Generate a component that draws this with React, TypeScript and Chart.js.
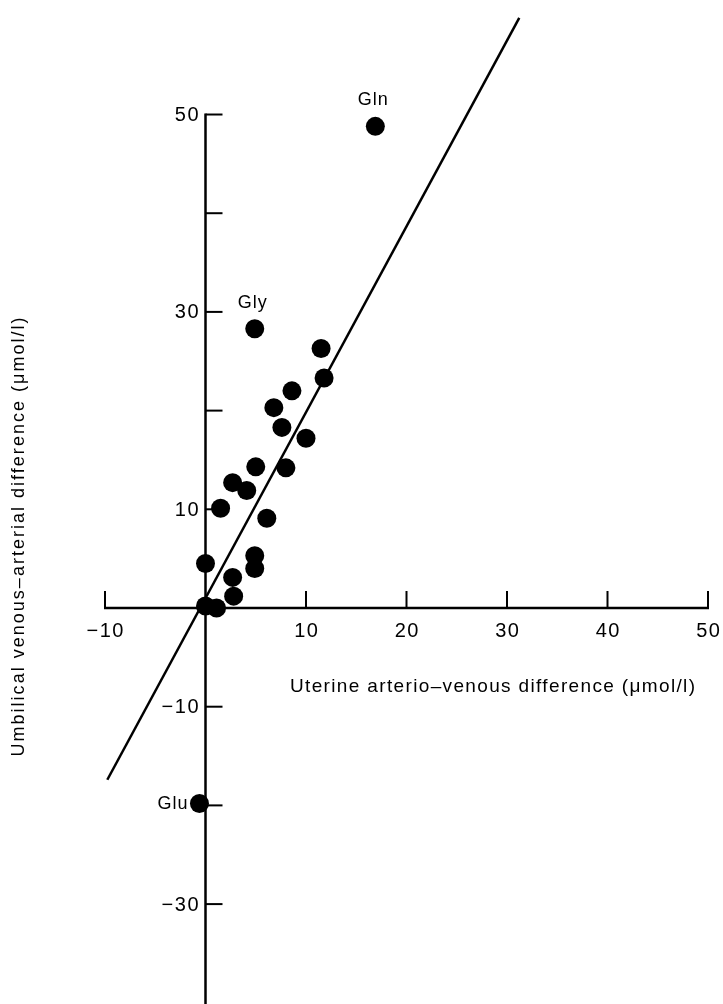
import { useEffect, useRef } from "react";
import { Chart, registerables } from "chart.js";

Chart.register(...registerables);

// ---- data ----
const pointX = [16.9, 4.9, 11.5, 11.8, 8.6, 6.8, 7.6, 10.0, 5.0, 8.0, 2.7, 4.1, 1.5, 6.1, 0.0, 4.9, 4.9, 2.7, 2.8, 0.0, 1.1, -0.6];
const pointY = [48.8, 28.3, 26.3, 23.3, 22.0, 20.3, 18.3, 17.2, 14.3, 14.2, 12.7, 11.9, 10.1, 9.1, 4.5, 5.3, 4.0, 3.1, 1.2, 0.2, 0.0, -19.8];
const pointNames = ["Gln", "Gly", "", "", "", "", "", "", "", "", "", "", "", "", "", "", "", "", "", "", "", "Glu"];
const labelPlacement: Record<string, string> = { Gln: "above", Gly: "above", Glu: "left" };

const fitX = [-9.77, 31.22];
const fitY = [-17.4, 59.8];

const xTickValues = [-10, 0, 10, 20, 30, 40, 50];
const xLabelValues = [-10, 10, 20, 30, 40, 50];
const xLabelTexts = ["\u221210", "10", "20", "30", "40", "50"];
const yTickValues = [50, 40, 30, 20, 10, -10, -20, -30];
const yLabelValues = [50, 30, 10, -10, -30];
const yLabelTexts = ["50", "30", "10", "\u221210", "\u221230"];

const xTitle = "Uterine arterio\u2013venous difference (\u03bcmol/l)";
const yTitle = "Umbilical venous\u2013arterial difference (\u03bcmol/l)";

const FONT = '"Liberation Sans", Arial, Helvetica, sans-serif';

function setSpacing(ctx: any, px: number) {
  if ("letterSpacing" in ctx) ctx.letterSpacing = px + "px";
}

function drawFitted(ctx: any, text: string, x: number, y: number, target: number) {
  setSpacing(ctx, 0);
  const w0 = ctx.measureText(text).width;
  const n = Array.from(text).length;
  const ls = (target - w0) / Math.max(1, n - 1);
  setSpacing(ctx, ls);
  ctx.textAlign = "left";
  ctx.fillText(text, x, y);
  setSpacing(ctx, 0);
}

const axesPlugin = {
  id: "customAxes",
  beforeDatasetsDraw(chart: any) {
    const { ctx, scales } = chart;
    const xs = scales.x;
    const ys = scales.y;
    const x0 = xs.getPixelForValue(0);
    const y0 = ys.getPixelForValue(0);
    ctx.save();
    ctx.strokeStyle = "#000";
    ctx.lineCap = "butt";
    // x axis
    ctx.lineWidth = 2.5;
    ctx.beginPath();
    ctx.moveTo(xs.getPixelForValue(xTickValues[0]) - 1, y0);
    ctx.lineTo(xs.getPixelForValue(xTickValues[xTickValues.length - 1]) + 1, y0);
    ctx.stroke();
    ctx.lineWidth = 2;
    xTickValues.forEach((v) => {
      if (v === 0) return;
      const px = xs.getPixelForValue(v);
      ctx.beginPath();
      ctx.moveTo(px, y0);
      ctx.lineTo(px, y0 - 17);
      ctx.stroke();
    });
    // y axis
    ctx.lineWidth = 2.5;
    const yTop = ys.getPixelForValue(yTickValues[0]);
    ctx.beginPath();
    ctx.moveTo(x0, yTop - 1);
    ctx.lineTo(x0, chart.height);
    ctx.stroke();
    ctx.lineWidth = 2;
    yTickValues.forEach((v) => {
      const py = ys.getPixelForValue(v);
      ctx.beginPath();
      ctx.moveTo(x0, py);
      ctx.lineTo(x0 + 17, py);
      ctx.stroke();
    });
    ctx.restore();
  },
  afterDatasetsDraw(chart: any) {
    const { ctx, scales } = chart;
    const xs = scales.x;
    const ys = scales.y;
    const x0 = xs.getPixelForValue(0);
    const y0 = ys.getPixelForValue(0);
    ctx.save();
    ctx.fillStyle = "#000";
    // x tick labels
    ctx.font = "20px " + FONT;
    ctx.textBaseline = "middle";
    ctx.textAlign = "center";
    const tls = 1.5;
    xLabelValues.forEach((v, i) => {
      setSpacing(ctx, tls);
      ctx.fillText(xLabelTexts[i], xs.getPixelForValue(v) + tls / 2, y0 + 23);
    });
    // y tick labels
    ctx.textAlign = "right";
    yLabelValues.forEach((v, i) => {
      setSpacing(ctx, tls);
      ctx.fillText(yLabelTexts[i], x0 - 7 + tls, ys.getPixelForValue(v) + 1);
    });
    setSpacing(ctx, 0);
    // point labels
    ctx.font = "18px " + FONT;
    pointNames.forEach((name, i) => {
      if (!name) return;
      const px = xs.getPixelForValue(pointX[i]);
      const py = ys.getPixelForValue(pointY[i]);
      setSpacing(ctx, 1);
      if (labelPlacement[name] === "above") {
        ctx.textAlign = "center";
        ctx.textBaseline = "alphabetic";
        ctx.fillText(name, px - 2, py - 21);
      } else {
        ctx.textAlign = "right";
        ctx.textBaseline = "middle";
        ctx.fillText(name, px - 11, py + 1);
      }
    });
    setSpacing(ctx, 0);
    // x title
    ctx.font = "19px " + FONT;
    ctx.textBaseline = "alphabetic";
    drawFitted(ctx, xTitle, 290, 692, 405);
    // y title
    ctx.font = "18px " + FONT;
    ctx.save();
    ctx.translate(19, 537);
    ctx.rotate(-Math.PI / 2);
    ctx.textBaseline = "middle";
    drawFitted(ctx, yTitle, -219.5, 0, 439);
    ctx.restore();
    ctx.restore();
  },
};

export default function App() {
  const canvasRef = useRef<HTMLCanvasElement | null>(null);
  useEffect(() => {
    const canvas = canvasRef.current;
    if (!canvas) return;
    const chart = new Chart(canvas, {
      type: "scatter",
      data: {
        datasets: [
          {
            type: "line",
            data: fitX.map((v, i) => ({ x: v, y: fitY[i] })),
            borderColor: "#000",
            borderWidth: 2.5,
            pointRadius: 0,
            fill: false,
            order: 2,
          } as any,
          {
            type: "scatter",
            data: pointX.map((v, i) => ({ x: v, y: pointY[i] })),
            backgroundColor: "#000",
            borderWidth: 0,
            pointRadius: 9.5,
            order: 1,
          } as any,
        ],
      },
      options: {
        animation: false,
        responsive: false,
        events: [],
        layout: { padding: { left: 105, right: 15, top: 0, bottom: 0 } },
        plugins: { legend: { display: false }, tooltip: { enabled: false } },
        scales: {
          x: { type: "linear", min: -10, max: 50, display: false },
          y: { type: "linear", min: -39.16, max: 60.64, display: false },
        },
      } as any,
      plugins: [axesPlugin],
    });
    return () => chart.destroy();
  }, []);
  return (
    <div style={{ position: "absolute", left: 0, top: 0, width: 723, height: 1004, background: "#fff" }}>
      <canvas ref={canvasRef} width={723} height={1004} style={{ display: "block", width: 723, height: 1004 }} />
    </div>
  );
}
